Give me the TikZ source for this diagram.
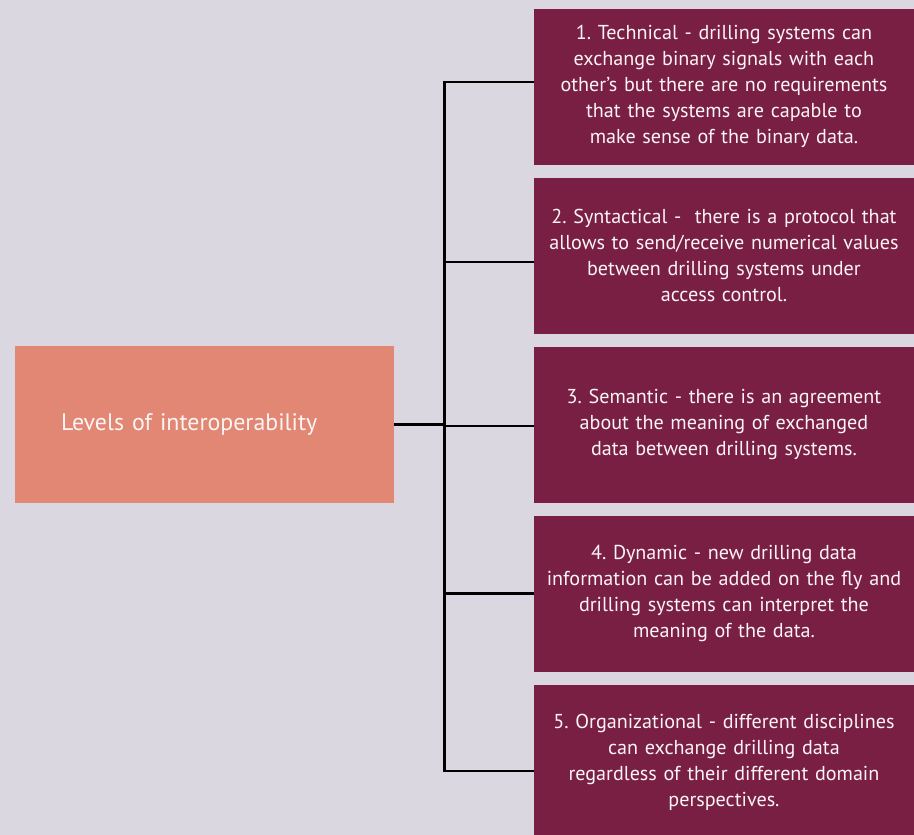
\documentclass[tikz,border=0pt]{standalone}
\usepackage{fontspec}
\setmainfont{PT Sans}
\frenchspacing
\definecolor{backdrop}{RGB}{218,215,224}
\definecolor{hub}{RGB}{226,135,115}
\definecolor{tier}{RGB}{122,31,68}
\definecolor{ink}{RGB}{250,244,244}
\tikzset{
  every node/.style = {
    rectangle,
    text = ink,
    inner sep = 0pt,
    font = \fontsize{15.1}{19.5}\selectfont
  },
  hub/.append style = {fill = hub, minimum width=284.25pt, minimum height=117.75pt,
    text width=215pt, align=left, font=\fontsize{17.9}{21}\selectfont},
  tier/.append style = {fill = tier, minimum width=285pt, minimum height=117pt,
    text width=280pt, align=center},
  % bus line from the hub to each level, with a small offset at the box
  feed/.style = {edge from parent path={(\tikzparentnode.east) -- ++(50,0)
    |- ([yshift=#1]\tikzchildnode.west)}},
  feed/.default = 0pt
}

\begin{document}
\begin{tikzpicture}[x=0.75pt, y=-0.75pt,
    grow'=right, level distance=389.6pt, sibling distance=126.75pt,
    edge from parent/.style={draw=black, line width=1.9pt}
    ]
\fill[backdrop] (0,0) rectangle (914,835);
\clip (0,0) rectangle (914,835);

\node[hub] (root) at (204.5,424.5) {Levels of interoperability}
  child[feed=3.4pt] { node[tier] (technical) {1. Technical - drilling systems can\\
      exchange binary signals with each\\
      other’s but there are no requirements\\
      that the systems are capable to\\
      make sense of the binary data.} }
  child[feed=-4.9pt] { node[tier] (syntactical) {2. Syntactical -\ \ there is a protocol that\\
      allows to send/receive numerical values\\
      between drilling systems under\\
      access control.} }
  child[feed=-1.1pt] { node[tier] (semantic) {3. Semantic - there is an agreement\\
      about the meaning of exchanged\\
      data between drilling systems.} }
  child[feed] { node[tier] (dynamic) {4. Dynamic - new drilling data\\
      information can be added on the fly and\\
      drilling systems can interpret the\\
      meaning of the data.} }
  child[feed=-6.4pt] { node[tier] (organizational) {5. Organizational - different disciplines\\
      can exchange drilling data\\
      regardless of their different domain\\
      perspectives.} };
\end{tikzpicture}
\end{document}
